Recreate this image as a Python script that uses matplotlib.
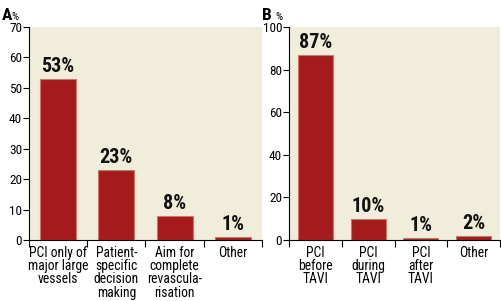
import numpy as np
import matplotlib
matplotlib.use("Agg")
import matplotlib.pyplot as plt

# === Data ===
cats_a = ["PCI only of\nmajor large\nvessels", "Patient-\nspecific\ndecision\nmaking",
          "Aim for\ncomplete\nrevascula-\nrisation", "Other"]
vals_a = [53, 23, 8, 1]
cats_b = ["PCI\nbefore\nTAVI", "PCI\nduring\nTAVI", "PCI\nafter\nTAVI", "Other"]
vals_b = [87, 10, 1, 2]

BAR_COLOR = "#A51B1C"
EDGE_COLOR = "#D9706A"
BG = "#F1EDDB"
W, H = 502, 301

plt.rcParams['font.family'] = ['Roboto Condensed', 'DejaVu Sans']

fig = plt.figure(figsize=(W / 100, H / 100), dpi=100)
ax_a = fig.add_axes([29 / W, 61 / H, 233 / W, 213 / H])
ax_b = fig.add_axes([289 / W, 61 / H, 211 / W, 213 / H])


def draw_panel(ax, cats, vals, ymax, ystep, width, letter, lx, px):
    x = np.arange(len(cats))
    ax.set_facecolor(BG)
    ax.bar(x, vals, width=width, color=BAR_COLOR, edgecolor=EDGE_COLOR, linewidth=0.8, zorder=2)
    for xi, v in zip(x, vals):
        ax.text(xi, v + ymax * 0.014, f"{v}%", ha="center", va="bottom",
                fontsize=14.5, fontweight="bold", color="#111111")
    ax.set_xlim(-0.5, len(cats) - 0.5)
    ax.set_ylim(0, ymax)
    ax.set_yticks(np.arange(0, ymax + 1, ystep))
    ax.tick_params(axis="y", labelsize=9.5, length=4, width=0.8, pad=1)
    ax.set_xticks(x)
    ax.set_xticklabels(cats, fontsize=9.8, linespacing=0.95)
    ax.tick_params(axis="x", which="major", length=0, pad=4)
    ax.set_xticks(np.arange(-0.5, len(cats)), minor=True)
    ax.tick_params(axis="x", which="minor", length=5, width=0.8, direction="out")
    for s in ["top", "right"]:
        ax.spines[s].set_visible(False)
    for s in ["left", "bottom"]:
        ax.spines[s].set_linewidth(0.8)
    fig.text(lx / W, 1 - 23 / H, letter, fontsize=12.5, fontweight="bold",
             ha="left", va="bottom")
    fig.text(px / W, 1 - 22 / H, "%", fontsize=8, ha="left", va="bottom")


draw_panel(ax_a, cats_a, vals_a, 70, 10, 0.62, "A", 2, 11)
draw_panel(ax_b, cats_b, vals_b, 100, 20, 0.66, "B", 262, 275)

fig.savefig("out.png", dpi=100)
